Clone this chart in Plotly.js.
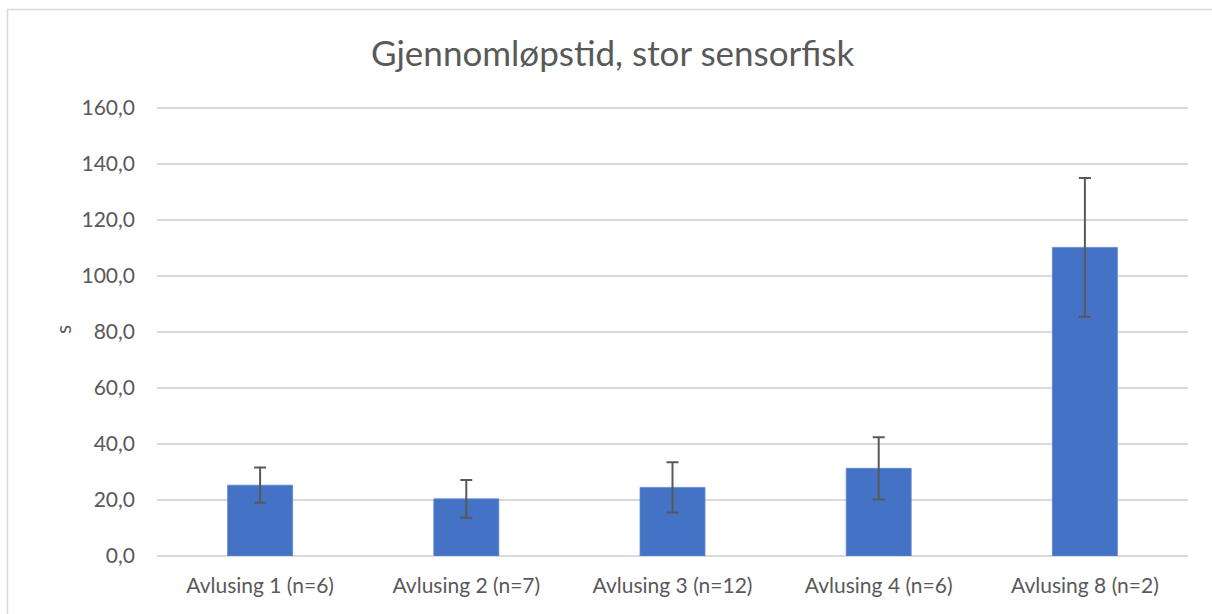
<!DOCTYPE html>
<html>
<head>
<meta charset="utf-8">
<script src="https://cdn.plot.ly/plotly-3.0.1.min.js"></script>
<style>html,body{margin:0;padding:0;background:#fff;}#chart{width:1212px;height:614px;}</style>
</head>
<body>
<div id="chart"></div>
<script>
const categories = ["Avlusing 1 (n=6)", "Avlusing 2 (n=7)", "Avlusing 3 (n=12)", "Avlusing 4 (n=6)", "Avlusing 8 (n=2)"];
const meanTimes = [25.3, 20.4, 24.5, 31.3, 110.2];
const errors = [6.3, 6.7, 9.0, 11.1, 24.75];
const yTicks = [0, 20, 40, 60, 80, 100, 120, 140, 160];
const yMax = 160;

const textColor = "#595959";
const font = "Lato, 'Open Sans', sans-serif";

const trace = {
  type: "bar",
  x: categories,
  y: meanTimes,
  marker: {color: "#4472C4", line: {color: "#5b84cf", width: 0.8}},
  error_y: {type: "data", array: errors, visible: true, color: "#595959", thickness: 2, width: 6},
  hoverinfo: "x+y"
};

const layout = {
  width: 1212, height: 614,
  margin: {l: 157, r: 24, t: 104, b: 58},
  paper_bgcolor: "#fff", plot_bgcolor: "#fff",
  separators: ", ",
  bargap: 0.685,
  showlegend: false,
  font: {family: font, color: textColor},
  title: {text: "Gjennomløpstid, stor sensorfisk", font: {family: font, size: 35, color: textColor},
          x: 0.5055, xanchor: "center", y: 1 - 54/614, yanchor: "middle"},
  xaxis: {tickfont: {size: 21, color: textColor}, showgrid: false, showline: false, ticks: "",
          ticklabelstandoff: 15, fixedrange: true},
  yaxis: {range: [0, 161.4], tickvals: yTicks, tickformat: ".1f", tickfont: {size: 21, color: textColor},
          gridcolor: "#d9d9d9", gridwidth: 1.3, zeroline: true, zerolinecolor: "#d9d9d9", zerolinewidth: 1.3,
          showline: false, ticks: "", ticklabelstandoff: 21, fixedrange: true},
  annotations: [{text: "s", xref: "paper", yref: "paper", x: (62-157)/1031, y: 0.5, showarrow: false,
                 textangle: -90, font: {size: 21, color: textColor, family: font}, xanchor: "center", yanchor: "middle"}],
  shapes: [
    {type: "line", xref: "paper", yref: "y", x0: 0, x1: 1, y0: yMax, y1: yMax,
     line: {color: "#d9d9d9", width: 1.3}, layer: "below"},
    {type: "rect", xref: "paper", yref: "paper",
     x0: (7.5-157)/1031, x1: (1225-157)/1031, y0: (556-625)/452, y1: (556-9.5)/452,
     line: {color: "#d9d9d9", width: 1.5}, fillcolor: "rgba(0,0,0,0)", layer: "below"}]
};

Plotly.newPlot("chart", [trace], layout, {displayModeBar: false, staticPlot: true});
</script>
</body>
</html>
